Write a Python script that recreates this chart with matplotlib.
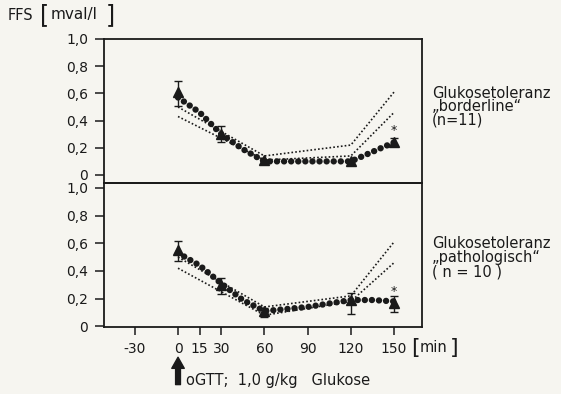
import matplotlib
matplotlib.use('Agg')
import matplotlib.pyplot as plt

# time axis [min]
t_dots = [0, 15, 30, 45, 60, 90, 120, 135, 150]
t_tri = [0, 30, 60, 120, 150]
t_ref = [0, 60, 120, 150]

# Glukosetoleranz "borderline" (n=11)
dots_border = [0.57, 0.46, 0.30, 0.19, 0.10, 0.10, 0.10, 0.17, 0.24]
tri_border = [0.61, 0.30, 0.11, 0.10, 0.245]
err_lo_border = [0.10, 0.06, 0.0, 0.0, 0.03]
err_hi_border = [0.08, 0.06, 0.0, 0.0, 0.03]
ref_hi_border = [0.50, 0.14, 0.22, 0.61]
ref_lo_border = [0.43, 0.11, 0.14, 0.46]
star_border = 0.33

# Glukosetoleranz "pathologisch" (n=10)
dots_patho = [0.53, 0.44, 0.31, 0.19, 0.11, 0.14, 0.19, 0.19, 0.18]
tri_patho = [0.55, 0.30, 0.11, 0.19, 0.17]
err_lo_patho = [0.08, 0.07, 0.04, 0.10, 0.07]
err_hi_patho = [0.07, 0.05, 0.02, 0.05, 0.05]
ref_hi_patho = [0.50, 0.14, 0.22, 0.61]
ref_lo_patho = [0.42, 0.08, 0.18, 0.46]
star_patho = 0.25

y_ticks = [0, 0.2, 0.4, 0.6, 0.8, 1.0]
y_labels = ['0', '0,2', '0,4', '0,6', '0,8', '1,0']
x_ticks = [-30, 0, 15, 30, 60, 90, 120, 150]
x_labels = ['-30', '0', '15', '30', '60', '90', '120', '150']

INK = '#1a1a1a'
BG = '#f6f5f0'

plt.rcParams['font.family'] = 'DejaVu Sans'
W, H = 561, 394
fig = plt.figure(figsize=(W / 100, H / 100), dpi=100, facecolor=BG)

def px(x, y):
    return x / W, 1 - y / H

L, R = 104 / W, 422 / W
ax1 = fig.add_axes([L, 1 - 183 / H, R - L, 144 / H])
ax2 = fig.add_axes([L, 1 - 327 / H, R - L, 144 / H])


def draw_panel(ax, dots, tri, lo, hi, ref_hi, ref_lo, star):
    ax.set_facecolor('none')
    ax.plot(t_ref, ref_hi, color=INK, lw=1.2, linestyle=(0, (1, 1.3)))
    ax.plot(t_ref, ref_lo, color=INK, lw=1.2, linestyle=(0, (1, 1.3)))
    ax.plot(t_dots, dots, color=INK, lw=4.6, linestyle=(0, (0.01, 1.1)),
            dash_capstyle='round', solid_capstyle='round')
    ax.errorbar(t_tri, tri, yerr=[lo, hi], fmt='^', color=INK, ms=7.5,
                elinewidth=1, capsize=3, capthick=1, zorder=5)
    ax.text(150, star, '*', ha='center', va='center', fontsize=9, color=INK)
    ax.set_xlim(-51.4, 169.4)
    for s in ax.spines.values():
        s.set_color(INK)
        s.set_linewidth(1.3)
    ax.set_yticks(y_ticks)
    ax.set_yticklabels(y_labels)
    ax.tick_params(axis='y', direction='out', length=6.5, width=1.1,
                   pad=5, labelsize=10, colors=INK)


draw_panel(ax1, dots_border, tri_border, err_lo_border, err_hi_border,
           ref_hi_border, ref_lo_border, star_border)
draw_panel(ax2, dots_patho, tri_patho, err_lo_patho, err_hi_patho,
           ref_hi_patho, ref_lo_patho, star_patho)

ax1.set_ylim(-0.059, 1.0)
ax1.set_xticks([])
ax2.set_ylim(-0.005, 1.036)
ax2.set_xticks(x_ticks)
ax2.set_xticklabels(x_labels)
ax2.tick_params(axis='x', direction='out', length=6, width=1.1,
                pad=5, labelsize=10, colors=INK)

# axis labels
fig.text(*px(8, 15), 'FFS', fontsize=10.5, va='center', color=INK)
fig.text(*px(40, 15), '[', fontsize=17, va='center', color=INK)
fig.text(*px(51, 15), 'mval/l', fontsize=11, va='center', color=INK)
fig.text(*px(106, 15), ']', fontsize=17, va='center', color=INK)

fig.text(*px(411, 348), '[', fontsize=16, va='center', color=INK)
fig.text(*px(420, 348), 'min', fontsize=10.5, va='center', color=INK)
fig.text(*px(450, 348), ']', fontsize=16, va='center', color=INK)

# panel labels
for i, line in enumerate(['Glukosetoleranz', '\u201eborderline\u201c', '(n=11)']):
    fig.text(*px(432, 93 + 13.5 * i), line, fontsize=10.5, va='center', color=INK)
for i, line in enumerate(['Glukosetoleranz', '\u201epathologisch\u201c', '( n = 10 )']):
    fig.text(*px(432, 243 + 14.5 * i), line, fontsize=10.5, va='center', color=INK)

# glucose load arrow
ax2.annotate('', xy=(0, -0.21), xytext=(0, -0.40),
             xycoords=('data', 'axes fraction'),
             arrowprops=dict(arrowstyle='simple,head_length=0.8,head_width=0.9,tail_width=0.35',
                             color=INK, shrinkA=0, shrinkB=0),
             annotation_clip=False)
fig.text(*px(186, 381), 'oGTT;  1,0 g/kg   Glukose', fontsize=10.5,
         va='center', color=INK)

fig.savefig('out.png', dpi=100, facecolor=BG)
